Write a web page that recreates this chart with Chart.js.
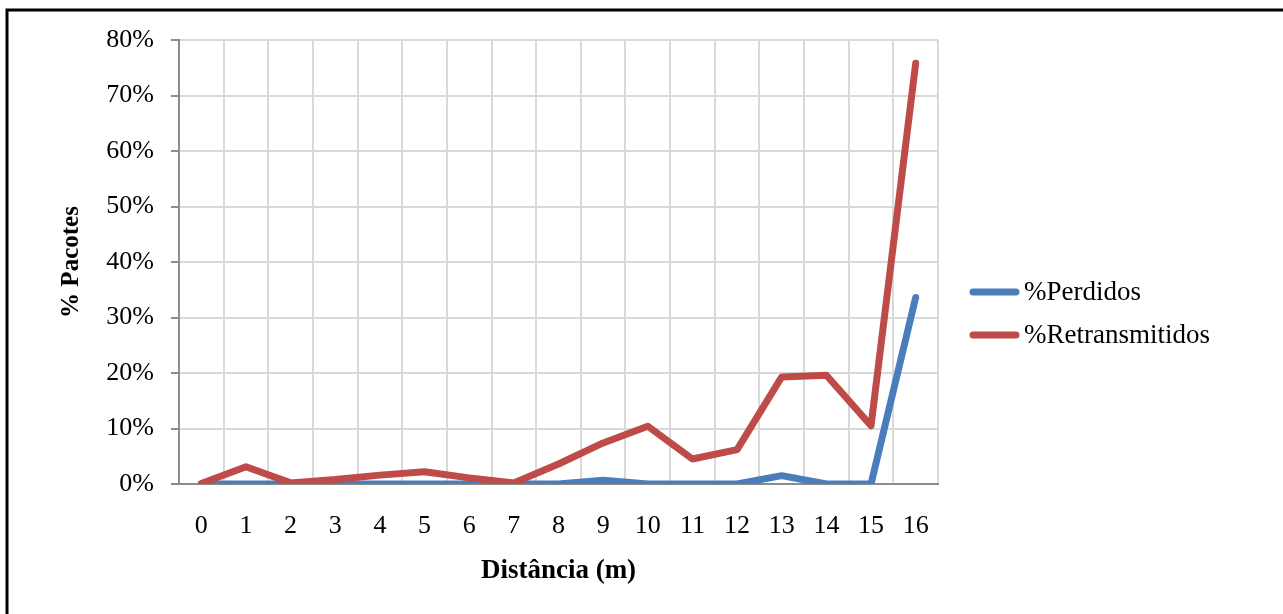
<!DOCTYPE html>
<html>
<head>
<meta charset="utf-8">
<title>Pacotes perdidos e retransmitidos por distância</title>
<script src="https://cdn.jsdelivr.net/npm/chart.js@4/dist/chart.umd.min.js"></script>
<style>
  html, body { margin: 0; padding: 0; background: #ffffff; }
  canvas { display: block; }
</style>
</head>
<body>
<canvas id="chart" width="1283" height="614"></canvas>
<script>
// Distância (m) em que cada medição foi feita
const distancias = ['0', '1', '2', '3', '4', '5', '6', '7', '8', '9', '10', '11', '12', '13', '14', '15', '16'];

// Percentagem de pacotes perdidos em cada distância
const perdidos = [0, 0, 0, 0, 0, 0, 0, 0, 0, 0.7, 0, 0, 0, 1.5, 0, 0, 33.6];

// Percentagem de pacotes retransmitidos em cada distância
const retransmitidos = [0.1, 3.1, 0.2, 0.8, 1.6, 2.2, 1.1, 0.2, 3.6, 7.4, 10.4, 4.5, 6.2, 19.3, 19.6, 10.5, 75.8];

// Marcas do eixo vertical (%)
const marcasY = [0, 10, 20, 30, 40, 50, 60, 70, 80];

const FONTE = "'Liberation Serif', 'Times New Roman', serif";
Chart.defaults.font.family = FONTE;
Chart.defaults.color = '#000000';

// Moldura superior e esquerda da figura
const moldura = {
  id: 'moldura',
  afterDraw(chart) {
    const ctx = chart.ctx;
    ctx.save();
    ctx.strokeStyle = '#000000';
    ctx.lineWidth = 3;
    ctx.beginPath();
    ctx.moveTo(7, chart.height);
    ctx.lineTo(7, 10);
    ctx.lineTo(chart.width, 10);
    ctx.stroke();
    ctx.restore();
  }
};

// Legenda à direita da área do gráfico
const legendaLateral = {
  id: 'legendaLateral',
  afterDraw(chart) {
    const ctx = chart.ctx;
    const entradas = [
      { ds: chart.data.datasets[1], y: 292 },
      { ds: chart.data.datasets[0], y: 335 }
    ];
    ctx.save();
    ctx.font = "27px " + FONTE;
    ctx.textBaseline = 'middle';
    ctx.textAlign = 'left';
    entradas.forEach(e => {
      ctx.strokeStyle = e.ds.borderColor;
      ctx.lineWidth = 7;
      ctx.lineCap = 'round';
      ctx.beginPath();
      ctx.moveTo(973, e.y);
      ctx.lineTo(1016, e.y);
      ctx.stroke();
      ctx.fillStyle = '#000000';
      ctx.fillText(e.ds.label, 1024, e.y + 1);
    });
    ctx.restore();
  }
};

new Chart(document.getElementById('chart'), {
  type: 'line',
  data: {
    labels: distancias,
    datasets: [
      {
        label: '%Retransmitidos',
        data: retransmitidos,
        borderColor: '#BE4B48',
        backgroundColor: '#BE4B48',
        borderWidth: 7,
        borderCapStyle: 'round',
        borderJoinStyle: 'round',
        pointRadius: 0,
        tension: 0,
        order: 0
      },
      {
        label: '%Perdidos',
        data: perdidos,
        borderColor: '#4A7EBB',
        backgroundColor: '#4A7EBB',
        borderWidth: 7,
        borderCapStyle: 'round',
        borderJoinStyle: 'round',
        pointRadius: 0,
        tension: 0,
        order: 1
      }
    ]
  },
  options: {
    responsive: false,
    animation: false,
    events: [],
    layout: { padding: { left: 0, right: 345, top: 40, bottom: 0 } },
    plugins: {
      legend: { display: false },
      tooltip: { enabled: false }
    },
    scales: {
      x: {
        type: 'category',
        offset: true,
        grid: {
          offset: true,
          color: '#d9d9d9',
          lineWidth: 2,
          drawTicks: false
        },
        border: { color: '#8c8c8c', width: 2 },
        ticks: {
          font: { size: 26 },
          color: '#000000',
          padding: 27,
          maxRotation: 0,
          autoSkip: false
        },
        title: {
          display: true,
          text: 'Distância (m)',
          font: { size: 27, weight: 'bold' },
          color: '#000000',
          padding: { top: 0, bottom: 27 }
        },
        afterFit(scale) { scale.height = 130; }
      },
      y: {
        min: 0,
        max: 80,
        afterBuildTicks(scale) {
          scale.ticks = marcasY.map(v => ({ value: v }));
        },
        grid: {
          color: '#d9d9d9',
          lineWidth: 2,
          drawTicks: true,
          tickLength: 8,
          tickColor: '#8c8c8c',
          tickWidth: 2
        },
        border: { color: '#8c8c8c', width: 2 },
        ticks: {
          font: { size: 26 },
          color: '#000000',
          padding: 17,
          callback: v => v + '%'
        },
        title: {
          display: true,
          text: '% Pacotes',
          font: { size: 25, weight: 'bold' },
          color: '#000000',
          padding: { top: 57, bottom: 0 }
        },
        afterFit(scale) { scale.width = 179; }
      }
    }
  },
  plugins: [moldura, legendaLateral]
});
</script>
</body>
</html>
